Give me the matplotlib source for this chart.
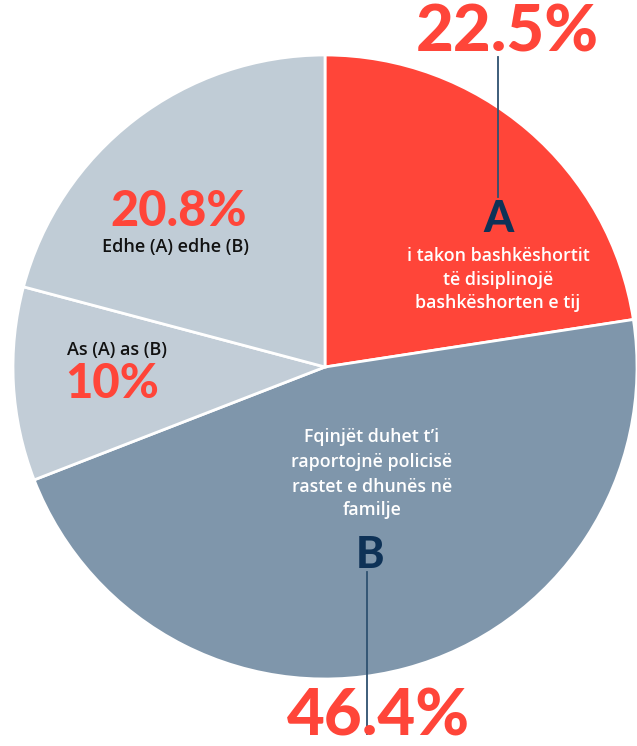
import matplotlib
matplotlib.use("Agg")
import matplotlib.pyplot as plt

W, H = 637, 746

shares = [22.5, 46.4, 10.0, 20.8]
pct_labels = ["22.5%", "46.4%", "10%", "20.8%"]
colors = ["#FF4539", "#7F96AB", "#C2CDD7", "#C0CCD6"]
red = "#FF4539"
navy = "#0E3257"

plt.rcParams['font.family'] = ['Lato', 'DejaVu Sans']
small = dict(family=['Open Sans', 'DejaVu Sans'], fontweight="semibold")

fig = plt.figure(figsize=(W / 100, H / 100), dpi=100)
ax = fig.add_axes([0, 0, 1, 1])

cx, cy, r = 325, H - 367, 312
ax.pie(shares, colors=colors, startangle=90, counterclock=False,
       center=(cx, cy), radius=r, frame=True,
       wedgeprops=dict(edgecolor="white", linewidth=2))
ax.set_xlim(0, W)
ax.set_ylim(0, H)
ax.set_aspect("equal")
ax.axis("off")

def T(x, y, s, **kw):
    ax.text(x, H - y, s, ha="center", va="center", **kw)

# leader lines
ax.plot([498, 498], [H - 57, H - 197], color="#2E5170", lw=1.3, zorder=3)
ax.plot([367, 367], [H - 572, H - 734], color="#2E5170", lw=1.3, zorder=3)

# A slice
T(507, 33, pct_labels[0], fontsize=47, fontweight="black", color=red)
T(498, 219, "A", fontsize=31, fontweight="black", color=navy)
T(498, 256, "i takon bashkëshortit", fontsize=12.8, color="white", **small)
T(498, 280, "të disiplinojë", fontsize=12.8, color="white", **small)
T(498, 303, "bashkëshorten e tij", fontsize=12.8, color="white", **small)

# B slice
T(372, 437, "Fqinjët duhet t’i", fontsize=12.8, color="white", **small)
T(372, 462, "raportojnë policisë", fontsize=12.8, color="white", **small)
T(372, 487, "rastet e dhunës në", fontsize=12.8, color="white", **small)
T(372, 510, "familje", fontsize=12.8, color="white", **small)
T(370, 555, "B", fontsize=31, fontweight="black", color=navy)
T(378, 717, pct_labels[1], fontsize=47, fontweight="black", color=red)

# neither
ax.text(67, H - 350, "As (A) as (B)", fontsize=13, color="#111111",
        ha="left", va="center", **small)
ax.text(65, H - 384, pct_labels[2], fontsize=34, fontweight="black",
        color=red, ha="left", va="center")

# both
T(179, 212, pct_labels[3], fontsize=35, fontweight="black", color=red)
T(176, 247, "Edhe (A) edhe (B)", fontsize=13, color="#111111", **small)

fig.savefig("out.png", dpi=100)
